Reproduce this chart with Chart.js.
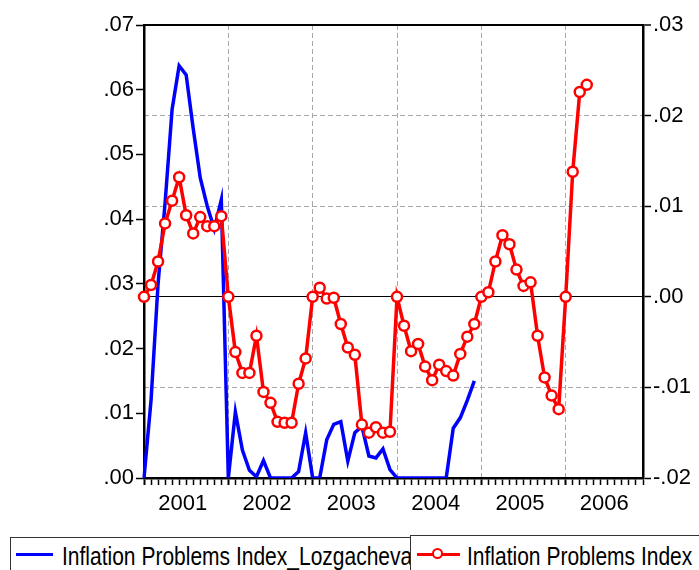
<!DOCTYPE html>
<html>
<head>
<meta charset="utf-8">
<script src="https://cdn.jsdelivr.net/npm/chart.js@4"></script>
<style>
  body { margin: 0; background: #fff; }
  #wrap { position: relative; width: 699px; height: 570px; overflow: hidden; }
  #chart { position: absolute; left: 0; top: 0; }
  .leg { position: absolute; border: 1px solid #333; border-bottom: none; background: #fff;
         font-family: 'Liberation Sans', Arial, sans-serif;
         font-size: 25px; color: #000; white-space: nowrap; }
  .leg span { position: absolute; top: 4px; transform: scaleX(0.84); transform-origin: 0 0; }
  .leg i { position: absolute; height: 3px; }
  .leg b { position: absolute; width: 7px; height: 7px; border: 2.5px solid #f00; border-radius: 50%; background: #fff; }
</style>
</head>
<body>
<div id="wrap">
  <canvas id="chart" width="699" height="530"></canvas>
  <div class="leg" style="left:10px; top:537px; width:402px; height:40px;">
    <i style="left:5px; top:15px; width:37px; background:#00f;"></i>
    <span style="left:51px;">Inflation Problems Index_Lozgacheva</span>
  </div>
  <div class="leg" style="left:410px; top:535px; width:290px; height:40px;">
    <i style="left:6px; top:17px; width:43px; background:#f00;"></i>
    <b style="left:21px; top:12px;"></b>
    <span style="left:56px; top:6px;">Inflation Problems Index</span>
  </div>
</div>
<script>
// Monthly data, Jan 2001 .. Dec 2006
const years = ['2001', '2002', '2003', '2004', '2005', '2006'];
const months = [];
years.forEach(y => { for (let m = 1; m <= 12; m++) months.push(y + 'M' + m); });

// left axis series (ends Dec 2004)
const lozgacheva = [
  0.000, 0.012, 0.030, 0.0425, 0.057, 0.0637, 0.0623, 0.054, 0.0464, 0.042, 0.0385, 0.043,
  0.000, 0.0102, 0.0043, 0.0012, 0.0002, 0.0027, 0.000, 0.000, 0.000, 0.000, 0.001, 0.007,
  0.000, 0.000, 0.0059, 0.0083, 0.0087, 0.0026, 0.007, 0.008, 0.0034, 0.0031, 0.0045, 0.0013,
  0.000, 0.000, 0.000, 0.000, 0.000, 0.000, 0.000, 0.000, 0.0077, 0.0093, 0.012, 0.015
];

// right axis series (ends Apr 2006)
const inflationIdx = [
  0.000, 0.0013, 0.0039, 0.0081, 0.0106, 0.0132, 0.009, 0.007, 0.0088, 0.0078, 0.0078, 0.0089,
  0.000, -0.0061, -0.0084, -0.0084, -0.0043, -0.0105, -0.0117, -0.0138, -0.0139, -0.0139, -0.0096, -0.0068,
  0.000, 0.001, -0.0002, -0.0001, -0.003, -0.0056, -0.0064, -0.0141, -0.015, -0.0144, -0.015, -0.0149,
  0.000, -0.0032, -0.006, -0.0052, -0.0077, -0.0092, -0.0075, -0.0082, -0.0087, -0.0063, -0.0044, -0.003,
  0.000, 0.0005, 0.0039, 0.0068, 0.0058, 0.003, 0.0012, 0.0016, -0.0043, -0.0089, -0.0109, -0.0124,
  0.000, 0.0138, 0.0226, 0.0234
];

const leftTicks = { min: 0, max: 0.07, step: 0.01 };
const rightTicks = { min: -0.02, max: 0.03, step: 0.01 };

const FONT = "'Liberation Sans', Arial, sans-serif";
const fmt = v => {
  const s = Math.abs(v).toFixed(2).replace(/^0/, '');
  return (v < -1e-9 ? '-' : '') + s;
};

const ctx = document.getElementById('chart').getContext('2d');
new Chart(ctx, {
  type: 'line',
  data: {
    labels: months,
    datasets: [
      {
        label: 'Inflation Problems Index',
        data: inflationIdx,
        yAxisID: 'yR',
        borderColor: '#ff0000',
        borderWidth: 3.5,
        pointRadius: 5,
        pointBorderWidth: 2.5,
        pointBackgroundColor: '#ffffff',
        pointBorderColor: '#ff0000',
        tension: 0,
        order: 0
      },
      {
        label: 'Inflation Problems Index_Lozgacheva',
        data: lozgacheva,
        yAxisID: 'yL',
        borderColor: '#0000ff',
        borderWidth: 3.5,
        pointRadius: 0,
        tension: 0,
        order: 1
      }
    ]
  },
  options: {
    responsive: false,
    animation: false,
    layout: { padding: { top: 25, left: 0, right: 0, bottom: 0 } },
    plugins: { legend: { display: false }, tooltip: { enabled: false } },
    scales: {
      x: {
        type: 'category',
        position: 'bottom',
        offset: false,
        ticks: { display: false, autoSkip: false },
        grid: {
          drawOnChartArea: true,
          color: c => (c.index > 0 && c.index % 12 === 0) ? '#a8a8a8' : 'rgba(0,0,0,0)',
          lineWidth: 1,
          tickColor: '#000',
          tickWidth: c => (c.index % 12 === 0) ? 2 : 1.5,
          tickLength: 7
        },
        border: {
          color: '#000', width: 2.5,
          dash: c => (c.tick ? [5, 3] : [])
        },
        afterFit: s => { s.height = 12; }
      },
      xYear: {
        type: 'linear',
        position: 'bottom',
        min: 0,
        max: months.length - 1,
        afterBuildTicks: s => { s.ticks = years.map((y, k) => ({ value: 5.5 + 12 * k })); },
        ticks: {
          callback: (v, i) => years[i],
          color: '#000',
          font: { family: FONT, size: 22 },
          padding: 1,
          autoSkip: false,
          maxRotation: 0
        },
        grid: { display: false, drawTicks: false },
        border: { display: false },
        afterFit: s => { s.height = 40; }
      },
      yL: {
        type: 'linear',
        position: 'left',
        min: leftTicks.min,
        max: leftTicks.max,
        ticks: {
          stepSize: leftTicks.step,
          callback: v => fmt(v),
          color: '#000',
          font: { family: FONT, size: 22 },
          padding: 2
        },
        grid: { drawOnChartArea: false, tickColor: '#000', tickLength: 8, tickWidth: 1.5 },
        border: { color: '#000', width: 2.5 },
        afterFit: s => { s.width = 144; }
      },
      yR: {
        type: 'linear',
        position: 'right',
        min: rightTicks.min,
        max: rightTicks.max,
        ticks: {
          stepSize: rightTicks.step,
          callback: v => fmt(v),
          color: '#000',
          font: { family: FONT, size: 22 },
          padding: 2
        },
        grid: {
          drawOnChartArea: true,
          color: c => {
            if (!c.tick) return '#000';
            const v = c.tick.value;
            if (Math.abs(v) < 1e-9 || Math.abs(v - rightTicks.max) < 1e-9) return '#000';
            return '#a8a8a8';
          },
          lineWidth: c => (c.tick && Math.abs(c.tick.value - rightTicks.max) < 1e-9) ? 2 : 1,
          tickColor: '#000',
          tickLength: 8,
          tickWidth: 1.5
        },
        border: {
          color: '#000', width: 2.5,
          dash: c => {
            if (!c.tick) return [];
            const v = c.tick.value;
            if (Math.abs(v) < 1e-9 || Math.abs(v - rightTicks.max) < 1e-9) return [];
            return [5, 3];
          }
        },
        afterFit: s => { s.width = 56; }
      }
    }
  }
});
</script>
</body>
</html>
